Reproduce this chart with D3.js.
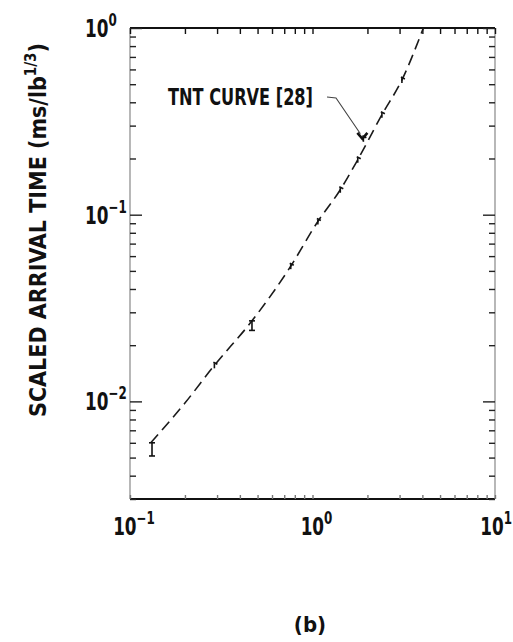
<!DOCTYPE html>
<html>
<head>
<meta charset="utf-8">
<script src="https://cdn.jsdelivr.net/npm/d3@7"></script>
<style>
  html, body { margin: 0; padding: 0; background: #fff; }
  svg { display: block; }
  text { font-family: "DejaVu Sans Condensed", "Liberation Sans Narrow", "Roboto", sans-serif; font-stretch: condensed; font-weight: bold; fill: #111; }
</style>
</head>
<body>
<svg id="chart" width="513" height="642"></svg>
<script>
// ---- data ----
const xDomain = [0.1, 10];
const yDomain = [0.003, 1];
const xMajorTicks = [0.1, 1, 10];
const xTickExponents = ["-1", "0", "1"];
const yMajorTicks = [1, 0.1, 0.01];
const yTickExponents = ["0", "-1", "-2"];

// TNT reference curve (dashed)
const curveX = [0.13, 0.2, 0.29, 0.466, 0.76, 1.07, 1.42, 1.77, 2.4, 3.09, 4.05];
const curveY = [0.0060, 0.0098, 0.0156, 0.027, 0.053, 0.092, 0.136, 0.197, 0.343, 0.527, 1.0];

// measured points (small tick glyphs)
const obsX = [0.132, 0.29, 0.466, 0.76, 1.07, 1.42, 1.77, 1.9, 2.4, 3.09];
const obsY = [0.0060, 0.0156, 0.027, 0.053, 0.092, 0.136, 0.197, 0.255, 0.343, 0.527];
const obsLow = [0.0051, null, 0.024, null, null, null, null, null, null, null];

const annotationText = "TNT CURVE [28]";
const annotationTarget = [1.9, 0.255];
const yTitleMain = "SCALED ARRIVAL TIME (ms/lb";
const yTitleSup = "1/3";
const panelLabel = "(b)";

// ---- layout ----
const svg = d3.select("#chart");
const L = 130, R = 495, T = 28, B = 499;

const x = d3.scaleLog().domain(xDomain).range([L, R]);
const y = d3.scaleLog().domain(yDomain).range([B, T]);

// frame
svg.append("line").attr("x1", L).attr("x2", R).attr("y1", T).attr("y2", T).attr("stroke", "#111").attr("stroke-width", 2);
svg.append("line").attr("x1", L).attr("x2", R).attr("y1", B).attr("y2", B).attr("stroke", "#111").attr("stroke-width", 2);
svg.append("line").attr("x1", L).attr("x2", L).attr("y1", T).attr("y2", B).attr("stroke", "#888").attr("stroke-width", 1.2);
svg.append("line").attr("x1", R).attr("x2", R).attr("y1", T).attr("y2", B).attr("stroke", "#888").attr("stroke-width", 1.2);

// ticks (inward, all four sides) using d3 axes
const xTicks = x.ticks();
const yTicks = y.ticks();
const isMajor = v => Math.abs(Math.log10(v) - Math.round(Math.log10(v))) < 1e-9;

function styleAxis(g, color) {
  g.select(".domain").remove();
  g.selectAll(".tick line").attr("stroke", color).attr("stroke-width", 1.4);
  g.selectAll(".tick text").remove();
}

svg.append("g").attr("transform", `translate(0,${B})`)
  .call(d3.axisBottom(x).tickValues(xTicks).tickSize(-4).tickFormat(""))
  .call(g => styleAxis(g, "#777"));
svg.append("g").attr("transform", `translate(0,${T})`)
  .call(d3.axisTop(x).tickValues(xTicks).tickSize(-6).tickFormat(""))
  .call(g => styleAxis(g, "#111"));
svg.append("g").attr("transform", `translate(${L},0)`)
  .call(d3.axisLeft(y).tickValues(yTicks).tickFormat(""))
  .call(g => { styleAxis(g, "#222"); g.selectAll(".tick line").attr("x2", d => isMajor(d) ? 12 : 6); });
svg.append("g").attr("transform", `translate(${R},0)`)
  .call(d3.axisRight(y).tickValues(yTicks).tickFormat(""))
  .call(g => { styleAxis(g, "#222"); g.selectAll(".tick line").attr("x2", d => isMajor(d) ? -12 : -6); });

// tick labels with superscripts (condensed by horizontal scaling)
function powerLabel(px, py, exp, anchor) {
  const g = svg.append("g").attr("transform", `translate(${px},${py}) scale(0.78,1)`);
  const t = g.append("text").attr("x", 0).attr("y", 0)
    .attr("text-anchor", anchor).attr("font-size", 24);
  t.append("tspan").text("10");
  t.append("tspan").attr("dy", -11).attr("font-size", 17).text(exp.replace("-", "\u2212"));
}
xMajorTicks.forEach((v, i) => {
  const last = i === xMajorTicks.length - 1;
  powerLabel(last ? 512 : x(v) + 4, 535, xTickExponents[i], last ? "end" : "middle");
});
yMajorTicks.forEach((v, i) => {
  powerLabel(85, y(v) + 9, yTickExponents[i], "start");
});

// dashed TNT curve
const curveData = curveX.map((v, i) => [v, curveY[i]]);
svg.append("path")
  .datum(curveData)
  .attr("fill", "none")
  .attr("stroke", "#1a1a1a")
  .attr("stroke-width", 1.6)
  .attr("stroke-dasharray", "11,6")
  .attr("d", d3.line().x(d => x(d[0])).y(d => y(d[1])).curve(d3.curveMonotoneX));

// data glyphs
const obs = obsX.map((v, i) => ({ x: v, y: obsY[i], low: obsLow[i] }));
const gObs = svg.append("g").attr("stroke", "#111").attr("stroke-width", 1.6).attr("fill", "none");
obs.forEach(d => {
  const px = x(d.x), py = y(d.y);
  if (d.low !== null) {
    const pl = y(d.low);
    gObs.append("line").attr("x1", px).attr("x2", px).attr("y1", py).attr("y2", pl);
    gObs.append("line").attr("x1", px - 3).attr("x2", px + 3).attr("y1", py).attr("y2", py);
    gObs.append("line").attr("x1", px - 3).attr("x2", px + 3).attr("y1", pl).attr("y2", pl);
  } else {
    gObs.append("line").attr("x1", px - 1).attr("x2", px + 3).attr("y1", py - 3).attr("y2", py - 1);
    gObs.append("line").attr("x1", px).attr("x2", px).attr("y1", py - 2).attr("y2", py + 3);
  }
});

// annotation
const ax = x(annotationTarget[0]), ay = y(annotationTarget[1]);
svg.append("text").attr("x", 168).attr("y", 105)
  .attr("font-size", 23).attr("textLength", 145).attr("lengthAdjust", "spacingAndGlyphs")
  .text(annotationText);
svg.append("path")
  .attr("fill", "none").attr("stroke", "#444").attr("stroke-width", 1.1)
  .attr("d", `M327,97 L336,98 L${ax - 3},${ay - 5}`);
svg.append("path")
  .attr("fill", "none").attr("stroke", "#111").attr("stroke-width", 2.6)
  .attr("d", `M${ax - 6},${ay - 6} L${ax - 1},${ay} L${ax + 4},${ay - 6}`);

// y title
const yt = svg.append("text")
  .attr("transform", "translate(46,230) rotate(-90)")
  .attr("text-anchor", "middle").attr("font-size", 23);
yt.append("tspan").text(yTitleMain);
yt.append("tspan").attr("dy", -10).attr("font-size", 15).text(yTitleSup);
yt.append("tspan").attr("dy", 10).text(")");

// panel label
svg.append("text").attr("x", 310).attr("y", 632).attr("text-anchor", "middle")
  .attr("font-size", 22).text(panelLabel);
</script>
</body>
</html>
